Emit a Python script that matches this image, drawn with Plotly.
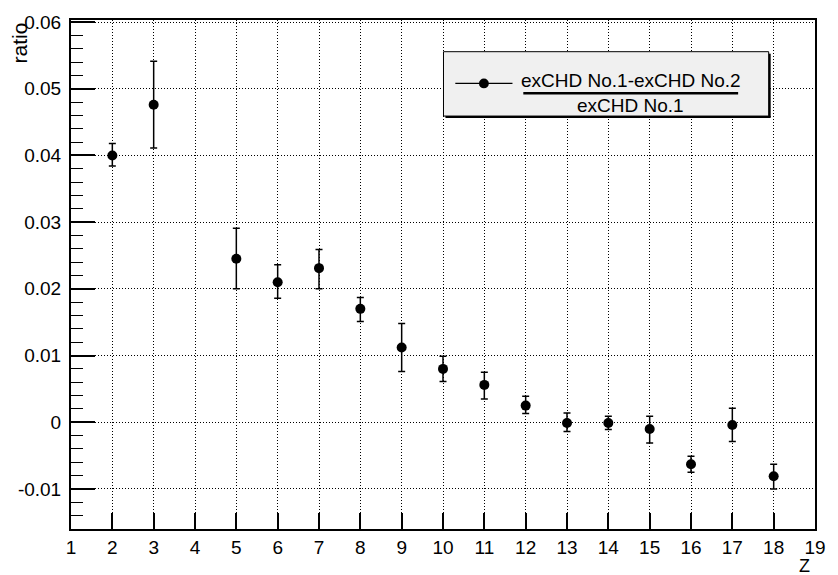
import plotly.graph_objects as go

# ---- data ----
z_values = [2, 3, 5, 6, 7, 8, 9, 10, 11, 12, 13, 14, 15, 16, 17, 18]
ratio = [0.0400, 0.0476, 0.0245, 0.0210, 0.0231, 0.0170, 0.0112, 0.0080,
         0.0056, 0.0025, -0.0001, -0.0001, -0.0010, -0.0063, -0.0004, -0.0081]
err_up = [0.0018, 0.0065, 0.0046, 0.0026, 0.0028, 0.0017, 0.0036, 0.0019,
          0.0019, 0.0014, 0.0015, 0.0010, 0.0019, 0.0012, 0.0025, 0.0018]
err_down = [0.0016, 0.0065, 0.0045, 0.0024, 0.0031, 0.0019, 0.0036, 0.0019,
            0.0021, 0.0012, 0.0013, 0.0010, 0.0021, 0.0012, 0.0025, 0.0019]
x_ticks = list(range(1, 20))
y_ticks = [-0.01, 0.0, 0.01, 0.02, 0.03, 0.04, 0.05, 0.06]
y_tick_text = ["-0.01", "0", "0.01", "0.02", "0.03", "0.04", "0.05", "0.06"]
legend_num = "exCHD No.1-exCHD No.2"
legend_den = "exCHD No.1"

FONT = "Liberation Sans, Arial, Helvetica, sans-serif"
W, H = 838, 575
L, R, T, B = 71, 826, 15, 529


def px(x):
    return (x - L) / (R - L)


def py(y):
    return (B - y) / (B - T)


fig = go.Figure()
fig.add_trace(go.Scatter(
    x=z_values, y=ratio, mode="markers",
    marker=dict(color="black", size=10, symbol="circle"),
    error_y=dict(type="data", symmetric=False, array=err_up, arrayminus=err_down,
                 color="black", thickness=1.5, width=3.5),
    showlegend=False,
))

fig.update_layout(
    width=W, height=H,
    margin=dict(l=L, r=W - R, t=T, b=H - B),
    paper_bgcolor="white", plot_bgcolor="white",
    font=dict(family=FONT, size=19, color="black"),
    showlegend=False,
)
fig.update_xaxes(
    range=[1, 19], tickmode="array", tickvals=x_ticks,
    ticks="inside", ticklen=16, tickwidth=1.5, tickcolor="black",
    showline=True, linecolor="black", linewidth=2, mirror=True,
    showgrid=True, gridcolor="black", griddash="1px,2px", gridwidth=1,
    zeroline=False, tickfont=dict(size=19), ticklabelstandoff=0,
)
fig.update_yaxes(
    range=[-0.0160, 0.0603], tickmode="array", tickvals=y_ticks, ticktext=y_tick_text,
    ticks="inside", ticklen=24, tickwidth=1.5, tickcolor="black",
    minor=dict(ticks="inside", ticklen=12, dtick=0.002, tick0=0, tickcolor="black",
               tickwidth=1.2, showgrid=False),
    showline=True, linecolor="black", linewidth=2, mirror=True,
    showgrid=True, gridcolor="black", griddash="1px,2px", gridwidth=1,
    zeroline=False, tickfont=dict(size=19), ticklabelstandoff=4,
)

# ---- legend box (ROOT style) ----
lx0, lx1, ly0, ly1 = 449, 779, 47, 112
shapes = [
    dict(type="rect", xref="paper", yref="paper", x0=px(lx0), x1=px(lx1), y0=py(ly1), y1=py(ly0),
         fillcolor="#f0f0f0", line=dict(color="black", width=1)),
    dict(type="line", xref="paper", yref="paper", x0=px(lx1 + 1), x1=px(lx1 + 1), y0=py(ly1 + 1), y1=py(ly0 + 2),
         line=dict(color="black", width=2)),
    dict(type="line", xref="paper", yref="paper", x0=px(lx0 + 2), x1=px(lx1 + 2), y0=py(ly1 + 1), y1=py(ly1 + 1),
         line=dict(color="black", width=2)),
    dict(type="line", xref="paper", yref="paper", x0=px(461), x1=px(519), y0=py(79), y1=py(79),
         line=dict(color="black", width=1.2)),
    dict(type="circle", xref="paper", yref="paper", x0=px(485), x1=px(495), y0=py(84), y1=py(74),
         fillcolor="black", line=dict(color="black", width=0)),
    dict(type="line", xref="paper", yref="paper", x0=px(530), x1=px(748), y0=py(89), y1=py(89),
         line=dict(color="black", width=2.5)),
]
fig.update_layout(shapes=shapes)

annotations = [
    dict(text=legend_num, x=px(639), y=py(76), xref="paper", yref="paper", showarrow=False,
         xanchor="center", yanchor="middle", font=dict(size=19)),
    dict(text=legend_den, x=px(639), y=py(101), xref="paper", yref="paper", showarrow=False,
         xanchor="center", yanchor="middle", font=dict(size=19)),
    dict(text="ratio", x=px(19), y=py(38), xref="paper", yref="paper", showarrow=False,
         textangle=-90, xanchor="center", yanchor="middle", font=dict(size=21)),
    dict(text="Z", x=px(815), y=py(566), xref="paper", yref="paper", showarrow=False,
         xanchor="center", yanchor="middle", font=dict(size=18)),
]
fig.update_layout(annotations=annotations)

fig.write_html("out.html")
